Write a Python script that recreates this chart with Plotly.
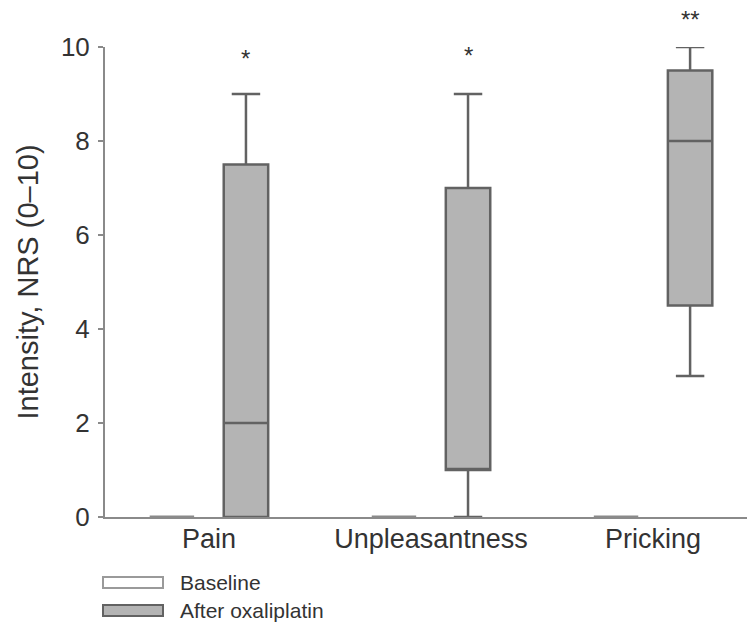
import plotly.graph_objects as go

categories = ["Pain", "Unpleasantness", "Pricking"]
# After oxaliplatin box statistics
after_min = [0, 0, 3]
after_q1 = [0, 1, 4.5]
after_median = [2, 1, 8]
after_q3 = [7.5, 7, 9.5]
after_max = [9, 9, 10]
# Baseline: all zero
base_min = [0, 0, 0]
base_q1 = [0, 0, 0]
base_median = [0, 0, 0]
base_q3 = [0, 0, 0]
base_max = [0, 0, 0]
sig_labels = ["*", "*", "**"]
sig_y = [9.75, 9.82, 10.58]
y_ticks = [0, 2, 4, 6, 8, 10]
y_max = 10
legend_names = ["Baseline", "After oxaliplatin"]

LINE = "#626262"
FILL = "#b4b4b4"
FONT = "Liberation Sans, Arial, sans-serif"
TXT = "#333333"

fig = go.Figure()
fig.add_trace(go.Box(
    name=legend_names[0], x=categories,
    lowerfence=base_min, q1=base_q1, median=base_median, q3=base_q3, upperfence=base_max,
    fillcolor="white", line=dict(color="#8a8a8a", width=3), whiskerwidth=0.64,
    showlegend=False, hoverinfo="skip",
))
fig.add_trace(go.Box(
    name=legend_names[1], x=categories,
    lowerfence=after_min, q1=after_q1, median=after_median, q3=after_q3, upperfence=after_max,
    fillcolor=FILL, line=dict(color=LINE, width=2.5), whiskerwidth=0.64,
    showlegend=False, hoverinfo="skip",
))

for i, (lab, yv) in enumerate(zip(sig_labels, sig_y)):
    fig.add_annotation(xref="x", yref="paper", x=i, y=yv / y_max, text=lab,
                       showarrow=False, xshift=37,
                       font=dict(family=FONT, size=24, color=TXT),
                       yanchor="middle")

# manual legend
key_fills = ["white", FILL]
key_lines = ["#9a9a9a", LINE]
key_tops = [577, 605]
for nm, fc, lc, top in zip(legend_names, key_fills, key_lines, key_tops):
    fig.add_shape(type="rect", xref="paper", yref="paper",
                  x0=(103 - 105) / 642, x1=(163 - 105) / 642,
                  y0=(517 - top) / 470, y1=(517 - top - 11) / 470,
                  fillcolor=fc, line=dict(color=lc, width=2))
    fig.add_annotation(xref="paper", yref="paper", x=(178 - 105) / 642,
                       y=(517 - top - 5.5) / 470, text=nm, showarrow=False,
                       xanchor="left", yanchor="middle",
                       font=dict(family=FONT, size=21, color=TXT))

fig.update_layout(
    width=747, height=623,
    margin=dict(l=105, r=0, t=47, b=106),
    paper_bgcolor="white", plot_bgcolor="white",
    boxmode="group", boxgap=0.333, boxgroupgap=0.4,
    font=dict(family=FONT, color=TXT),
    showlegend=False,
)
fig.update_xaxes(
    range=[-0.468, 2.423], showgrid=False, zeroline=False,
    showline=True, linecolor="#8a8a8a", linewidth=2, ticks="",
    ticklabelstandoff=-3,
    tickfont=dict(family=FONT, size=27, color=TXT),
)
fig.update_yaxes(
    range=[0, y_max], tickvals=y_ticks, showgrid=False, zeroline=False,
    showline=True, linecolor="#8a8a8a", linewidth=2,
    ticks="outside", ticklen=5, tickcolor="#8a8a8a", tickwidth=2,
    ticklabelstandoff=3,
    tickfont=dict(family=FONT, size=26, color=TXT),
    title=dict(text="Intensity, NRS (0–10)", font=dict(family=FONT, size=29, color=TXT), standoff=14),
)

fig.write_html("out.html")
